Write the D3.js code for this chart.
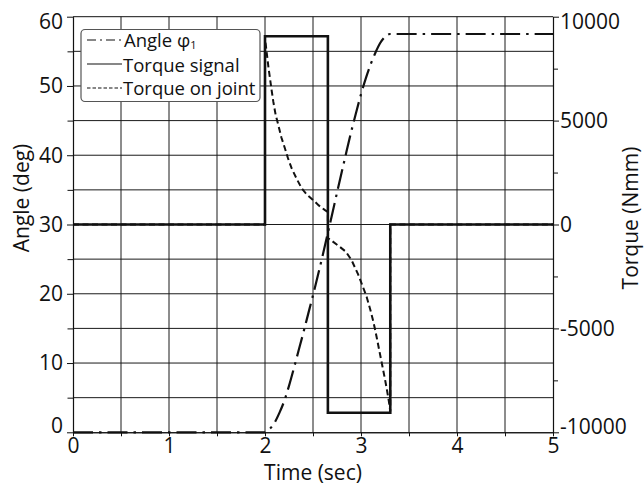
<!DOCTYPE html>
<html>
<head>
<meta charset="utf-8">
<script src="https://cdn.jsdelivr.net/npm/d3@7"></script>
<style>
  body { margin: 0; background: #fff; }
  svg { display: block; }
  text, tspan { font-family: "Open Sans", sans-serif; fill: #111; }
</style>
</head>
<body>
<svg id="chart" width="644" height="486"></svg>
<script>
// Tick values
const timeTicks = [0, 1, 2, 3, 4, 5];
const angleTicks = [0, 10, 20, 30, 40, 50, 60];
const torqueTicks = [-10000, -5000, 0, 5000, 10000];

// Joint angle φ1 (deg) over time (sec)
const angleTime = [0, 2.0, 2.05, 2.1, 2.15, 2.2, 2.25, 2.3, 2.35, 2.4, 2.45, 2.5, 2.55, 2.6, 2.65,
                   2.7, 2.75, 2.8, 2.85, 2.9, 2.95, 3.0, 3.05, 3.1, 3.15, 3.2, 3.25, 3.3, 5];
const angleDeg  = [0, 0, 0.5, 1.4, 2.8, 4.5, 6.7, 9.2, 11.8, 14.4, 17.1, 19.8, 22.6, 25.5, 28.5,
                   31.5, 34.6, 37.6, 40.6, 43.5, 46.2, 48.8, 51.1, 53.1, 54.8, 56.2, 57.1, 57.5, 57.5];

// Commanded torque signal (Nmm), bang-bang profile
const signalTime   = [0, 2.0, 2.0, 2.655, 2.655, 3.305, 3.305, 5];
const signalTorque = [0, 0, 9060, 9060, -9060, -9060, 0, 0];

// Torque measured on the joint (Nmm)
const jointTime   = [0, 2.0, 2.0, 2.008, 2.017, 2.035, 2.052, 2.07, 2.087, 2.11, 2.139, 2.17, 2.208, 2.24,
                     2.278, 2.33, 2.382, 2.44, 2.503, 2.56, 2.625, 2.655,
                     2.655, 2.70, 2.78, 2.84, 2.90, 2.97, 3.02, 3.06, 3.10, 3.13, 3.16, 3.19, 3.22,
                     3.25, 3.27, 3.29, 3.305, 3.305, 5];
const jointTorque = [0, 0, 8900, 8650, 8300, 7600, 7030, 6430, 5900, 5300, 4780, 4200, 3660, 3180,
                     2700, 2200, 1740, 1420, 1170, 920, 690, 600,
                     -650, -800, -1080, -1300, -1700, -2400, -3000, -3500, -4150, -4700, -5350, -6050, -6750,
                     -7450, -7950, -8500, -9000, 0, 0];

const svg = d3.select("#chart");
const plot = { left: 73, right: 553, top: 16.7, bottom: 432.3 };

const x = d3.scaleLinear().domain([0, 5]).range([plot.left, plot.right]);
const yA = d3.scaleLinear().domain([0, 60]).range([plot.bottom, plot.top]);
const yT = d3.scaleLinear().domain([-10000, 10000]).range([plot.bottom, plot.top]);

// Grid
const grid = svg.append("g").attr("stroke", "#1a1a1a").attr("stroke-width", 1);
d3.range(0.5, 5, 0.5).forEach(t => {
  grid.append("line").attr("x1", x(t)).attr("x2", x(t)).attr("y1", plot.top).attr("y2", plot.bottom);
});
d3.range(5, 60, 5).forEach(a => {
  grid.append("line").attr("x1", plot.left).attr("x2", plot.right).attr("y1", yA(a)).attr("y2", yA(a));
});

// Curves
const angleLine = d3.line().x(i => x(angleTime[i])).y(i => yA(angleDeg[i])).curve(d3.curveMonotoneX);
const torqueLine = (ts, vs) => d3.line().x(i => x(ts[i])).y(i => yT(vs[i])).curve(d3.curveLinear);

svg.append("path")
  .attr("d", angleLine(d3.range(angleTime.length)))
  .attr("fill", "none").attr("stroke", "#111").attr("stroke-width", 2.2)
  .attr("stroke-dasharray", "20,6,2.5,6");

svg.append("path")
  .attr("d", torqueLine(jointTime, jointTorque)(d3.range(jointTime.length)))
  .attr("fill", "none").attr("stroke", "#111").attr("stroke-width", 2)
  .attr("stroke-dasharray", "6,3.5");

svg.append("path")
  .attr("d", torqueLine(signalTime, signalTorque)(d3.range(signalTime.length)))
  .attr("fill", "none").attr("stroke", "#111").attr("stroke-width", 2.6)
  .attr("stroke-linejoin", "miter");

// Frame
svg.append("line").attr("x1", plot.left).attr("x2", plot.right).attr("y1", plot.top).attr("y2", plot.top)
  .attr("stroke", "#111").attr("stroke-width", 1);

// Axes
function styleAxis(g) {
  g.select(".domain").attr("stroke", "#111").attr("stroke-width", 1.1);
  g.selectAll(".tick line").attr("stroke", "#111").attr("stroke-width", 1);
  g.selectAll("text").attr("font-size", 21).attr("font-family", "'Open Sans', sans-serif").attr("fill", "#111");
}

// Left axis: angle
const leftMinor = svg.append("g").attr("transform", `translate(${plot.left},0)`)
  .call(d3.axisLeft(yA).tickValues(d3.range(5, 60, 10)).tickSize(5.5).tickSizeOuter(0).tickFormat(""));
styleAxis(leftMinor);
const leftAxis = svg.append("g").attr("transform", `translate(${plot.left},0)`)
  .call(d3.axisLeft(yA).tickValues(angleTicks).tickSize(6).tickPadding(4).tickSizeOuter(0)
    .tickFormat(d3.format("d")));
styleAxis(leftAxis);
leftAxis.selectAll(".tick text").attr("dy", d => d === 60 ? "0.55em" : d === 0 ? "0.0em" : "0.33em");

// Right axis: torque
const rightMinor = svg.append("g").attr("transform", `translate(${plot.right},0)`)
  .call(d3.axisRight(yT).tickValues([-7500, -2500, 2500, 7500]).tickSize(5).tickSizeOuter(0).tickFormat(""));
styleAxis(rightMinor);
const rightAxis = svg.append("g").attr("transform", `translate(${plot.right},0)`)
  .call(d3.axisRight(yT).tickValues(torqueTicks).tickSize(6).tickPadding(1).tickSizeOuter(0)
    .tickFormat(d => (d < 0 ? "-" : "") + Math.abs(d)));
styleAxis(rightAxis);
rightAxis.selectAll(".tick text").attr("dy", d => d === 10000 ? "0.55em" : d === -10000 ? "0.05em" : "0.33em");

// Bottom axis: time
const bottomMinor = svg.append("g").attr("transform", `translate(0,${plot.bottom})`)
  .call(d3.axisBottom(x).tickValues(d3.range(0.5, 5, 1)).tickSize(4).tickSizeOuter(0).tickFormat(""));
styleAxis(bottomMinor);
const bottomAxis = svg.append("g").attr("transform", `translate(0,${plot.bottom})`)
  .call(d3.axisBottom(x).tickValues(timeTicks).tickSize(4).tickSizeOuter(0).tickFormat(d3.format("d")));
styleAxis(bottomAxis);
bottomAxis.selectAll(".tick text").attr("y", 20.5).attr("dy", 0);

// Axis titles
svg.append("text").attr("x", (plot.left + plot.right) / 2).attr("y", 480)
  .attr("text-anchor", "middle").attr("font-size", 21).text("Time (sec)");
svg.append("text").attr("transform", "translate(28.5,198) rotate(-90)")
  .attr("text-anchor", "middle").attr("font-size", 21).text("Angle (deg)");
svg.append("text").attr("transform", "translate(638,218) rotate(-90)")
  .attr("text-anchor", "middle").attr("font-size", 21).text("Torque (Nmm)");

// Legend
const legend = svg.append("g");
legend.append("rect").attr("x", 81).attr("y", 29.5).attr("width", 179).attr("height", 72)
  .attr("rx", 4).attr("fill", "#fff").attr("stroke", "#555").attr("stroke-width", 1.2);
const legendItems = [
  { dash: "9,4,2,4", y: 40 },
  { dash: null, y: 64 },
  { dash: "3.5,2", y: 88 }
];
legendItems.forEach(it => {
  const l = legend.append("line").attr("x1", 87).attr("x2", 122).attr("y1", it.y).attr("y2", it.y)
    .attr("stroke", "#111").attr("stroke-width", 1.2);
  if (it.dash) l.attr("stroke-dasharray", it.dash);
});
const t1 = legend.append("text").attr("x", 124).attr("y", 47).attr("font-size", 18.5);
t1.append("tspan").text("Angle φ");
t1.append("tspan").attr("font-size", 11).attr("dy", 2).attr("fill", "#111").text("1");
legend.append("text").attr("x", 123).attr("y", 72).attr("font-size", 18.5).text("Torque signal");
legend.append("text").attr("x", 123).attr("y", 95).attr("font-size", 18.5).text("Torque on joint");
</script>
</body>
</html>
